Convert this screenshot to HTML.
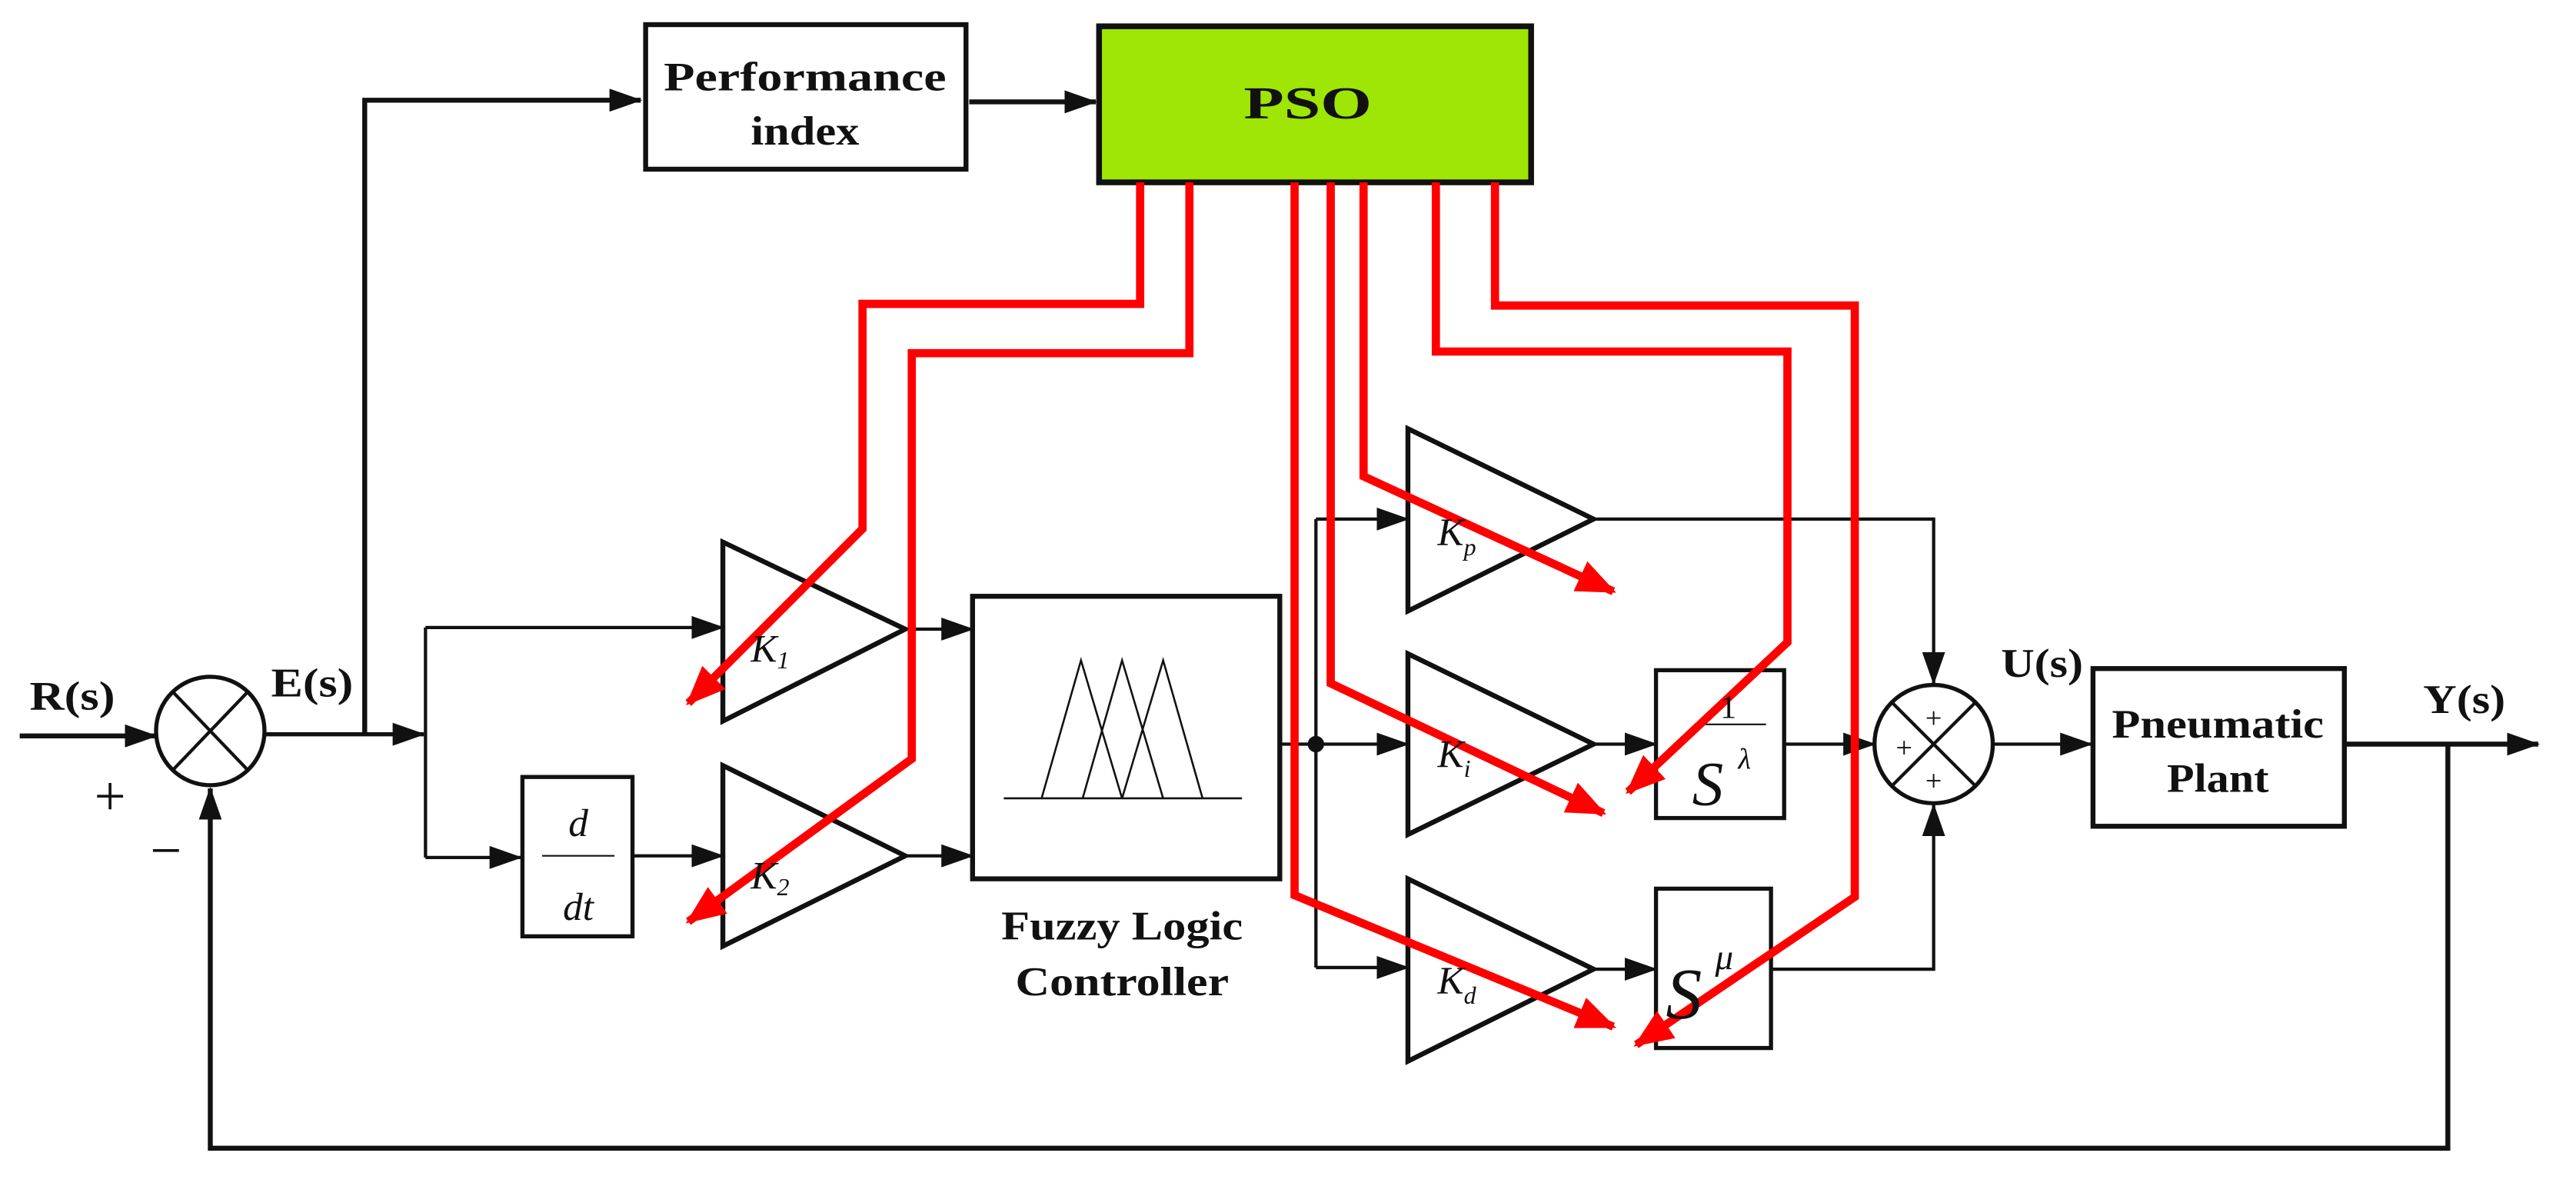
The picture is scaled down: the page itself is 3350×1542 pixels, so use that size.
<!DOCTYPE html>
<html><head><meta charset="utf-8"><style>
html,body{margin:0;padding:0;background:#fff;}
svg{display:block;}
text{font-family:"Liberation Serif",serif;}
</style></head><body>
<svg width="3350" height="1542" viewBox="0 0 1568 722" preserveAspectRatio="none" xmlns="http://www.w3.org/2000/svg">
<defs>
<marker id="a" markerWidth="20" markerHeight="14" refX="19" refY="7" orient="auto" markerUnits="userSpaceOnUse"><path d="M0,0 L20,7 L0,14 z" fill="#111"/></marker>
<marker id="r" markerWidth="24" markerHeight="20" refX="22" refY="10" orient="auto" markerUnits="userSpaceOnUse"><path d="M0,0 L24,10 L0,20 z" fill="#f00"/></marker>
</defs>
<g fill="none" stroke="#111" stroke-width="2">
<line x1="12" y1="448" x2="95" y2="448" stroke-width="3" marker-end="url(#a)"/>
<circle cx="128" cy="445" r="33" stroke-width="2.5"/>
<line x1="105" y1="421" x2="151" y2="469"/><line x1="151" y1="421" x2="105" y2="469"/>
<line x1="161" y1="447" x2="258" y2="447" stroke-width="2.5" marker-end="url(#a)"/>
<polyline points="222,447 222,61 390,61" stroke-width="3" marker-end="url(#a)"/>
<rect x="393" y="15" width="195" height="88" stroke-width="3"/>
<line x1="590" y1="62" x2="667" y2="62" stroke-width="3" marker-end="url(#a)"/>
<rect x="669" y="16" width="263" height="95" fill="#9fe505" stroke-width="3.5"/>
<polyline points="259,382 259,522"/>
<line x1="259" y1="382" x2="440" y2="382" marker-end="url(#a)"/>
<line x1="259" y1="522" x2="317" y2="522" marker-end="url(#a)"/>
<rect x="318" y="473" width="67" height="97" stroke-width="2.5"/>
<line x1="330" y1="521" x2="374" y2="521" stroke-width="1"/>
<line x1="385" y1="521" x2="440" y2="521" marker-end="url(#a)"/>
<polygon points="440,330 440,439 551,383" stroke-width="3"/>
<polygon points="440,466 440,576 551,521" stroke-width="3"/>
<line x1="551" y1="383" x2="592" y2="383" marker-end="url(#a)"/>
<line x1="551" y1="521" x2="592" y2="521" marker-end="url(#a)"/>
<rect x="592" y="363" width="187" height="172" stroke-width="3"/>
<g stroke-width="1.2">
<line x1="611" y1="486" x2="756" y2="486"/>
<polyline points="634,486 658,402 683,486"/>
<polyline points="659,486 683,402 708,486"/>
<polyline points="683,486 708,402 732,486"/>
</g>
<line x1="779" y1="453" x2="801" y2="453"/>
<polyline points="801,316 801,589"/>
<line x1="801" y1="316" x2="857" y2="316" marker-end="url(#a)"/>
<line x1="801" y1="453" x2="857" y2="453" marker-end="url(#a)"/>
<line x1="801" y1="589" x2="857" y2="589" marker-end="url(#a)"/>
<polygon points="857,261 857,372 970,316" stroke-width="3"/>
<polygon points="857,398 857,508 970,453" stroke-width="3"/>
<polygon points="857,535 857,646 970,590" stroke-width="3"/>
<polyline points="970,316 1177,316 1177,416" marker-end="url(#a)"/>
<line x1="970" y1="453" x2="1008" y2="453" marker-end="url(#a)"/>
<rect x="1008" y="408" width="78" height="90" stroke-width="2.5"/>
<line x1="1033" y1="441" x2="1075" y2="441" stroke-width="1"/>
<line x1="1086" y1="453" x2="1141" y2="453" marker-end="url(#a)"/>
<line x1="970" y1="590" x2="1008" y2="590" marker-end="url(#a)"/>
<rect x="1008" y="541" width="70" height="97" stroke-width="2.5"/>
<polyline points="1078,590 1177,590 1177,490" marker-end="url(#a)"/>
<circle cx="1177" cy="453" r="36" stroke-width="2.5"/>
<line x1="1152" y1="428" x2="1202" y2="478"/><line x1="1202" y1="428" x2="1152" y2="478"/>
<line x1="1213" y1="453" x2="1273" y2="453" marker-end="url(#a)"/>
<rect x="1274" y="407" width="153" height="96" stroke-width="3"/>
<line x1="1427" y1="453" x2="1545" y2="453" stroke-width="3" marker-end="url(#a)"/>
<polyline points="1490,453 1490,699 128,699 128,480" stroke-width="3" marker-end="url(#a)"/>
</g>
<circle cx="801" cy="453" r="5" fill="#111"/>
<g fill="none" stroke="#f00" stroke-width="5" stroke-linejoin="miter">
<polyline points="694,111 694,185 525,185 525,322 419,428" marker-end="url(#r)"/>
<polyline points="724,111 724,215 555,215 555,462 419,561" marker-end="url(#r)"/>
<polyline points="788,111 788,545 982,625" marker-end="url(#r)"/>
<polyline points="810,111 810,416 976,495" marker-end="url(#r)"/>
<polyline points="830,111 830,290 982,360" marker-end="url(#r)"/>
<polyline points="874,111 874,214 1088,214 1088,391 991,482" marker-end="url(#r)"/>
<polyline points="910,111 910,186 1129,186 1129,546 996,636" marker-end="url(#r)"/>
</g>
<g font-weight="bold" fill="#111" text-anchor="middle">
<text x="490" y="55" font-size="25" textLength="172" lengthAdjust="spacingAndGlyphs">Performance</text>
<text x="490" y="88" font-size="25" textLength="66" lengthAdjust="spacingAndGlyphs">index</text>
<text x="796" y="72" font-size="28" textLength="78" lengthAdjust="spacingAndGlyphs">PSO</text>
<text x="683" y="572" font-size="25" textLength="147" lengthAdjust="spacingAndGlyphs">Fuzzy Logic</text>
<text x="683" y="606" font-size="25" textLength="130" lengthAdjust="spacingAndGlyphs">Controller</text>
<text x="1350" y="449" font-size="25" textLength="129" lengthAdjust="spacingAndGlyphs">Pneumatic</text>
<text x="1350" y="482" font-size="25" textLength="62" lengthAdjust="spacingAndGlyphs">Plant</text>
<text x="44" y="432" font-size="25" textLength="52" lengthAdjust="spacingAndGlyphs">R(s)</text>
<text x="190" y="424" font-size="25" textLength="50" lengthAdjust="spacingAndGlyphs">E(s)</text>
<text x="1243" y="412" font-size="25" textLength="50" lengthAdjust="spacingAndGlyphs">U(s)</text>
<text x="1500" y="434" font-size="25" textLength="50" lengthAdjust="spacingAndGlyphs">Y(s)</text>
</g>
<g fill="#111" text-anchor="middle" font-size="34">
<text x="67" y="496">+</text>
<text x="101" y="529">−</text>
</g>
<g fill="#111" text-anchor="middle" font-size="18">
<text x="1177" y="443">+</text>
<text x="1159" y="461">+</text>
<text x="1177" y="481">+</text>
</g>
<g fill="#111" font-style="italic" font-size="24">
<text x="352" y="509" text-anchor="middle">d</text>
<text x="352" y="560" text-anchor="middle">dt</text>
<text x="457" y="403">K<tspan font-size="15" dy="4">1</tspan></text>
<text x="457" y="541">K<tspan font-size="15" dy="4">2</tspan></text>
<text x="875" y="332">K<tspan font-size="15" dy="6">p</tspan></text>
<text x="875" y="467">K<tspan font-size="15" dy="6">i</tspan></text>
<text x="875" y="605">K<tspan font-size="15" dy="6">d</tspan></text>
<text x="1052" y="437" font-style="normal" font-size="20" text-anchor="middle">1</text>
<text x="1030" y="490" font-size="38">S</text>
<text x="1058" y="468" font-size="18">λ</text>
<text x="1014" y="620" font-size="44">S</text>
<text x="1044" y="590" font-size="22">μ</text>
</g>
</svg>
</body></html>
